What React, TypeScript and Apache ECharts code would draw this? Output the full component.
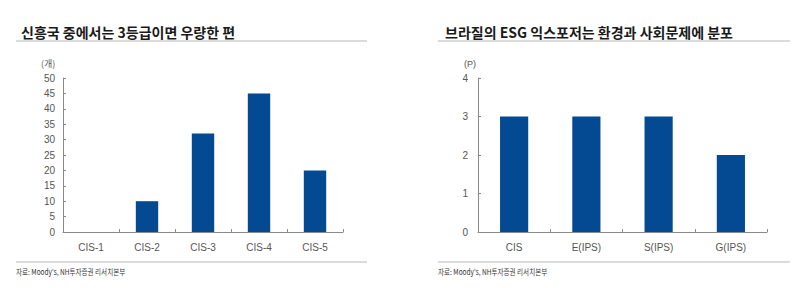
import React, { useEffect, useRef } from "react";
import * as echarts from "echarts";

const leftTitle = "신흥국 중에서는 3등급이면 우량한 편";
const rightTitle = "브라질의 ESG 익스포저는 환경과 사회문제에 분포";
const sourceText = "자료: Moody's, NH투자증권 리서치본부";
const leftUnit = "(개)";
const rightUnit = "(P)";
const leftCategories = ["CIS-1", "CIS-2", "CIS-3", "CIS-4", "CIS-5"];
const leftValues = [0, 10, 32, 45, 20];
const rightCategories = ["CIS", "E(IPS)", "S(IPS)", "G(IPS)"];
const rightValues = [3, 3, 3, 2];

const BAR = "#034a93";
const AXIS = "#8a8a8a";
const LABEL = "#555";
const KR = "'Noto Sans CJK KR', 'Liberation Sans', sans-serif";
const LAT = "'Liberation Sans', Arial, sans-serif";

export default function App() {
  const ref = useRef<HTMLDivElement>(null);
  useEffect(() => {
    if (!ref.current) return;
    const chart = echarts.init(ref.current, null, { renderer: "svg" });
    const axisCommon = {
      axisLine: { show: true, lineStyle: { color: AXIS, width: 1 } },
      axisTick: { show: true, inside: true, length: 3, lineStyle: { color: AXIS } },
      splitLine: { show: false },
      axisLabel: { color: LABEL, fontSize: 10, fontFamily: LAT },
    };
    chart.setOption({
      animation: false,
      backgroundColor: "#fff",
      title: [
        { text: leftTitle, left: 16, top: 20, textStyle: { fontFamily: KR, fontSize: 14, fontWeight: "bold", color: "#1a1a1a" } },
        { text: rightTitle, left: 440, top: 20, textStyle: { fontFamily: KR, fontSize: 14, fontWeight: "bold", color: "#1a1a1a" } },
        { text: leftUnit, left: 36, top: 54, textStyle: { fontFamily: KR, fontSize: 9, fontWeight: "normal", color: LABEL } },
        { text: rightUnit, left: 459, top: 54, textStyle: { fontFamily: LAT, fontSize: 9, fontWeight: "normal", color: LABEL } },
      ],
      graphic: [
        { type: "line", shape: { x1: 16, y1: 41, x2: 367, y2: 41 }, style: { stroke: "#cfcfcf", lineWidth: 1.5 } },
        { type: "line", shape: { x1: 438, y1: 41, x2: 790, y2: 41 }, style: { stroke: "#cfcfcf", lineWidth: 1.5 } },
        { type: "line", shape: { x1: 16, y1: 262, x2: 367, y2: 262 }, style: { stroke: "#cfcfcf", lineWidth: 1.5 } },
        { type: "line", shape: { x1: 438, y1: 262, x2: 790, y2: 262 }, style: { stroke: "#cfcfcf", lineWidth: 1.5 } },
        { type: "text", x: 16, y: 268, scaleX: 0.82, style: { text: sourceText, fontFamily: KR, fontSize: 8, fill: "#333" } },
        { type: "text", x: 438, y: 268, scaleX: 0.82, style: { text: sourceText, fontFamily: KR, fontSize: 8, fill: "#333" } },
      ],
      grid: [
        { left: 63, right: 457, top: 78, bottom: 56 },
        { left: 478, right: 33, top: 78, bottom: 56 },
      ],
      xAxis: [
        { type: "category", gridIndex: 0, data: leftCategories, ...axisCommon, axisLabel: { ...axisCommon.axisLabel, margin: 10 } },
        { type: "category", gridIndex: 1, data: rightCategories, ...axisCommon, axisLabel: { ...axisCommon.axisLabel, margin: 10 } },
      ],
      yAxis: [
        { type: "value", gridIndex: 0, min: 0, max: 50, interval: 5, ...axisCommon, axisLabel: { ...axisCommon.axisLabel, margin: 8 } },
        { type: "value", gridIndex: 1, min: 0, max: 4, interval: 1, ...axisCommon, axisLabel: { ...axisCommon.axisLabel, margin: 10 } },
      ],
      series: [
        { type: "bar", xAxisIndex: 0, yAxisIndex: 0, data: leftValues, barWidth: "40%", itemStyle: { color: BAR } },
        { type: "bar", xAxisIndex: 1, yAxisIndex: 1, data: rightValues, barWidth: "39%", itemStyle: { color: BAR } },
      ],
    });
    return () => chart.dispose();
  }, []);
  return <div ref={ref} style={{ width: 800, height: 288, position: "absolute", left: 0, top: 0 }} />;
}
